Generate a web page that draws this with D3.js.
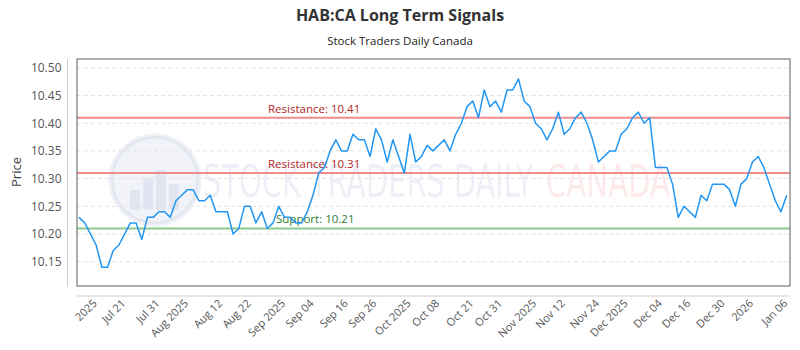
<!DOCTYPE html>
<html><head><meta charset="utf-8">
<script src="https://cdn.jsdelivr.net/npm/d3@7"></script>
<style>body{margin:0;background:#fff;font-family:"Open Sans",sans-serif;}</style>
</head><body><svg id="c" width="800" height="350"></svg>
<script>
const prices = [10.23,10.22,10.20,10.18,10.14,10.14,10.17,10.18,10.20,10.22,
10.22,10.19,10.23,10.23,10.24,10.24,10.23,10.26,10.27,10.28,
10.28,10.26,10.26,10.27,10.24,10.24,10.24,10.20,10.21,10.25,
10.25,10.22,10.24,10.21,10.22,10.25,10.23,10.23,10.22,10.22,
10.24,10.27,10.31,10.32,10.35,10.37,10.35,10.35,10.38,10.37,
10.37,10.34,10.39,10.37,10.33,10.37,10.34,10.31,10.38,10.33,
10.34,10.36,10.35,10.36,10.37,10.35,10.38,10.40,10.43,10.44,
10.41,10.46,10.43,10.44,10.42,10.46,10.46,10.48,10.44,10.43,
10.40,10.39,10.37,10.39,10.42,10.38,10.39,10.41,10.42,10.40,
10.37,10.33,10.34,10.35,10.35,10.38,10.39,10.41,10.42,10.40,
10.41,10.32,10.32,10.32,10.29,10.23,10.25,10.24,10.23,10.27,
10.26,10.29,10.29,10.29,10.28,10.25,10.29,10.30,10.33,10.34,
10.32,10.29,10.26,10.24,10.27];
const tickLabels = ["2025","Jul 21","Jul 31","Aug 2025","Aug 12","Aug 22","Sep 2025","Sep 04","Sep 16","Sep 26","Oct 2025","Oct 08","Oct 21","Oct 31","Nov 2025","Nov 12","Nov 24","Dec 2025","Dec 04","Dec 16","Dec 30","2026","Jan 06"];
const tickIndex = [3,8,14,19,25,30,36,41,47,52,58,63,69,74,80,85,91,96,102,107,113,118,124];
const yTicks = [10.15,10.20,10.25,10.30,10.35,10.40,10.45,10.50];
const levels = [
  {name:"Resistance", value:10.41},
  {name:"Resistance", value:10.31},
  {name:"Support", value:10.21}
];

const svg = d3.select("#c");
const L=77, R=790, T=59, B=286;
const x = d3.scaleLinear().domain([0, prices.length-1]).range([79, 786.7]);
const y = d3.scaleLinear().domain([10.106, 10.516]).range([B, T]);

// title
svg.append("text").attr("x",400).attr("y",21).attr("text-anchor","middle")
  .attr("font-size",16).attr("font-weight","bold").attr("fill","#333").text("HAB:CA Long Term Signals");
svg.append("text").attr("x",400).attr("y",45).attr("text-anchor","middle")
  .attr("font-size",11.5).attr("fill","#222").text("Stock Traders Daily Canada");

// watermark
const wm = svg.append("g");
wm.append("circle").attr("cx",155).attr("cy",180).attr("r",44).attr("fill","rgba(120,140,190,0.10)").attr("stroke","rgba(120,140,190,0.12)").attr("stroke-width",5);
[[130,190,10,20],[143,178,10,32],[156,170,10,40],[169,184,10,26]].forEach(b=>{
  wm.append("rect").attr("x",b[0]).attr("y",b[1]).attr("width",b[2]).attr("height",b[3]).attr("fill","rgba(120,140,190,0.13)");
});
wm.append("text").attr("x",203).attr("y",197).attr("font-size",44).attr("font-family","'DejaVu Sans Condensed','Liberation Sans Narrow',sans-serif")
  .attr("textLength",330).attr("lengthAdjust","spacingAndGlyphs").attr("fill","rgba(110,135,190,0.13)").text("STOCK TRADERS DAILY");
wm.append("text").attr("x",546).attr("y",197).attr("font-size",44).attr("font-family","'DejaVu Sans','Liberation Sans',sans-serif")
  .attr("textLength",124).attr("lengthAdjust","spacingAndGlyphs").attr("fill","rgba(235,90,90,0.12)").text("CANADA");

// grid
svg.append("g").selectAll("line").data(yTicks).join("line")
  .attr("x1",L).attr("x2",R).attr("y1",d=>y(d)).attr("y2",d=>y(d))
  .attr("stroke","#e3e3e3").attr("stroke-dasharray","4,3");

// y axis
const yAxis = svg.append("g").attr("transform",`translate(67.5,0)`)
  .call(d3.axisLeft(y).tickValues(yTicks).tickFormat(d3.format(".2f")).tickSize(0).tickPadding(6));
yAxis.select(".domain").attr("stroke","#ccc").attr("d",`M0,${T}V${B+1}`);
yAxis.selectAll("text").attr("font-size",12).attr("fill","#555").attr("font-family","'Open Sans',sans-serif");
svg.append("text").attr("transform","translate(21,172) rotate(-90)").attr("text-anchor","middle")
  .attr("font-size",13).attr("fill","#444").text("Price");

// x axis
const xAxis = svg.append("g").attr("transform",`translate(0,296)`)
  .call(d3.axisBottom(x).tickValues(tickIndex).tickFormat((d,i)=>tickLabels[i]).tickSize(0));
xAxis.select(".domain").attr("stroke","#ccc").attr("d",`M${L},0H${R}`);
xAxis.selectAll("text").attr("font-size",11).attr("fill","#555").attr("font-family","'Open Sans',sans-serif")
  .attr("text-anchor","end").attr("dy",0).attr("y",0)
  .attr("transform","translate(1,8) rotate(-45)");

// levels
const lv = svg.append("g");
lv.selectAll("line").data(levels).join("line")
  .attr("x1",L).attr("x2",R).attr("y1",d=>y(d.value)).attr("y2",d=>y(d.value))
  .attr("stroke",d=>d.name==="Support"?"#8cc98c":"#f28b8b").attr("stroke-width",2);
lv.selectAll("text").data(levels).join("text")
  .attr("x",d=>d.name==="Support"?276:268).attr("y",d=>y(d.value)-5)
  .attr("font-size",11.5).attr("fill",d=>d.name==="Support"?"#2e7d32":"#b3261e")
  .text(d=>`${d.name}: ${d.value.toFixed(2)}`);

// line
svg.append("path").datum(prices)
  .attr("fill","none").attr("stroke","#2196f3").attr("stroke-width",1.5).attr("stroke-linejoin","round")
  .attr("d", d3.line().x((d,i)=>x(i)).y(d=>y(d)));

// plot border
svg.append("rect").attr("x",L).attr("y",T).attr("width",R-L).attr("height",B-T)
  .attr("fill","none").attr("stroke","#777").attr("stroke-width",1.2);
</script></body></html>
